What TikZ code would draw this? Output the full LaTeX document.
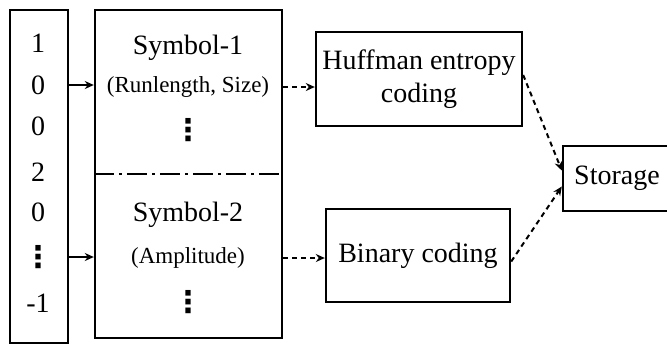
\documentclass[tikz,border=0pt]{standalone}
\usepackage{fontspec}
\setmainfont{Liberation Serif}
\newfontfamily\puntos{DejaVu Sans}
\usepackage{tikz}
\usetikzlibrary{arrows.meta, positioning}
\newcommand{\trespuntos}{{\puntos\bfseries ⋮}}
\tikzset{
  every picture/.style={>=Stealth},
  caja/.style={draw, line width=1.2pt, inner sep=0pt, align=center,
               font=\fontsize{14}{16.5}\selectfont},
  texto/.style={inner sep=0pt, font=\fontsize{14}{16}\selectfont},
  sub/.style={inner sep=0pt, font=\fontsize{11.5}{13}\selectfont},
  puntito/.style={inner sep=0pt, font=\fontsize{15}{15}\selectfont},
  flecha/.style={-{Stealth[length=4.5pt, width=4pt]}, line width=1pt},
  flechad/.style={-{Stealth[length=4.5pt, width=4pt]}, line width=1pt, dash pattern=on 2.5pt off 2pt},
}

\begin{document}
\begin{tikzpicture}[x=0.5pt, y=-0.5pt]
  \useasboundingbox (0,0) rectangle (667,350);
  % columna de coeficientes
  \node[caja, minimum width=29pt, minimum height=166.5pt] (col) at (39,176.5) {};
  \foreach \i/\d/\y in {1/1/43, 2/0/85, 3/0/126, 4/2/172, 5/0/212, 7/-1/303} {
    \node[texto] (d\i) at (38,\y) {\d};
  }
  \node[puntito] (d6) at (38,257) {\trespuntos};
  % simbolos
  \node[caja, minimum width=93.5pt, minimum height=164pt] (big) at (188.5,174) {};
  \draw[line width=1.2pt, dash pattern=on 10pt off 2.5pt on 1.5pt off 2.5pt] (big.west) -- (big.east);
  \node[texto] (s1) at (188,48) {Symbol-1};
  \node[sub] (r1) at (188,87) {(Runlength, Size)};
  \node[puntito] (v1) at (188,130) {\trespuntos};
  \node[texto] (s2) at (188,215) {Symbol-2};
  \node[sub] (r2) at (188,258) {(Amplitude)};
  \node[puntito] (v2) at (188,302) {\trespuntos};
  % codificacion
  \node[caja, minimum width=103pt, minimum height=47pt] (huff) at (419,79) {Huffman entropy\\coding};
  \node[caja, minimum width=92pt, minimum height=46.5pt] (bin) at (418,255.5) {Binary coding};
  \node[caja, minimum width=54pt, minimum height=32.5pt] (stor) at (617,178.5) {Storage};
  % conexiones
  \draw[flecha] (col.east |- d2) -- (big.west |- d2);
  \draw[flecha] (col.east |- d6) -- (big.west |- d6);
  \draw[flechad] (big.east |- r1) -- (huff.west |- r1);
  \draw[flechad] (big.east |- r2) -- (bin.west |- r2);
  \draw[flechad] ([yshift=2pt]huff.east) -- ([yshift=4pt]stor.west);
  \draw[flechad] ([yshift=-3pt]bin.east) -- ([yshift=-4pt]stor.west);
\end{tikzpicture}
\end{document}
